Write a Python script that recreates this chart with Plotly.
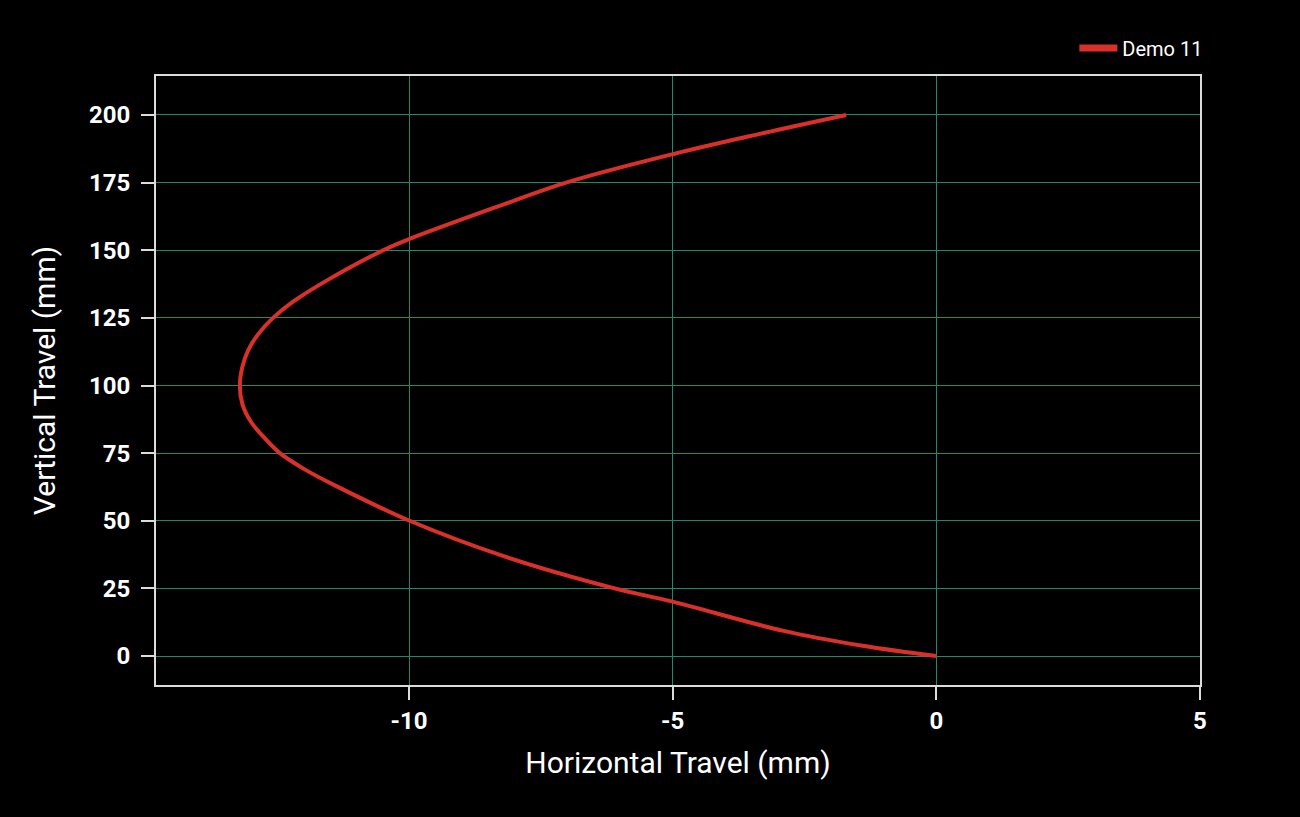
import plotly.graph_objects as go

# Data (vertical travel vs horizontal travel, mm)
vertical_mm = [0, 3.8, 9.4, 20.1, 25, 37.0, 50, 62.8, 69, 75, 81, 86.6, 93,
               100, 107, 113.1, 119, 125, 131, 139.5, 150, 154.1, 166.0,
               175, 185.5, 193, 200]
horizontal_mm = [0, -1.40, -2.92, -5.0, -6.1, -8.22, -9.99, -11.38, -11.98,
                 -12.45, -12.76, -13.0, -13.16, -13.21, -13.16, -13.05,
                 -12.86, -12.58, -12.2, -11.50, -10.49, -10.0, -8.34,
                 -7.02, -5.0, -3.35, -1.71]
series_name = "Demo 11"
x_ticks = [-10, -5, 0, 5]
y_ticks = [0, 25, 50, 75, 100, 125, 150, 175, 200]

red = "#d9302a"
fig = go.Figure()
fig.add_trace(go.Scatter(
    x=horizontal_mm, y=vertical_mm, mode="lines", name=series_name,
    line=dict(color=red, width=4, shape="spline", smoothing=1.0),
    showlegend=False, legendgroup="d",
))
# legend entry (thicker swatch, as in the reference)
fig.add_trace(go.Scatter(
    x=[None], y=[None], mode="lines", name=series_name,
    line=dict(color=red, width=7), legendgroup="d",
))

font_family = "Roboto, 'DejaVu Sans', sans-serif"
grid_color = "#23876c"
axis_color = "#dcdcdc"

fig.update_layout(
    width=1300, height=817,
    paper_bgcolor="black", plot_bgcolor="black",
    margin=dict(l=156, r=100, t=76, b=132),
    font=dict(family=font_family, color="white"),
    showlegend=True,
    legend=dict(x=1.008, y=1.014, xanchor="right", yanchor="bottom",
                font=dict(size=20, color="white"), bgcolor="rgba(0,0,0,0)",
                itemwidth=38),
)
fig.update_xaxes(
    range=[-14.8, 5], tickvals=x_ticks, ticktext=[str(v) for v in x_ticks],
    showgrid=True, gridcolor=grid_color, gridwidth=1, zeroline=False,
    showline=True, linecolor=axis_color, linewidth=2, mirror=True,
    ticks="outside", tickcolor=axis_color, ticklen=13, tickwidth=2,
    tickfont=dict(size=24, color="white", family=font_family, weight="bold"),
    title=dict(text="Horizontal Travel (mm)", font=dict(size=30, color="white"), standoff=18),
)
fig.update_yaxes(
    range=[-10.7, 214.4], tickvals=y_ticks, ticktext=[str(v) for v in y_ticks],
    showgrid=True, gridcolor=grid_color, gridwidth=1, zeroline=False,
    showline=True, linecolor=axis_color, linewidth=2, mirror=True,
    ticks="outside", tickcolor=axis_color, ticklen=13, tickwidth=2,
    ticklabelstandoff=6,
    tickfont=dict(size=24, color="white", family=font_family, weight="bold"),
    title=dict(text="Vertical Travel (mm)", font=dict(size=30, color="white"), standoff=24),
)

fig.write_html(
    "out.html",
    config={"displayModeBar": False},
    post_script="document.body.style.margin='0';document.body.style.background='black';",
)
